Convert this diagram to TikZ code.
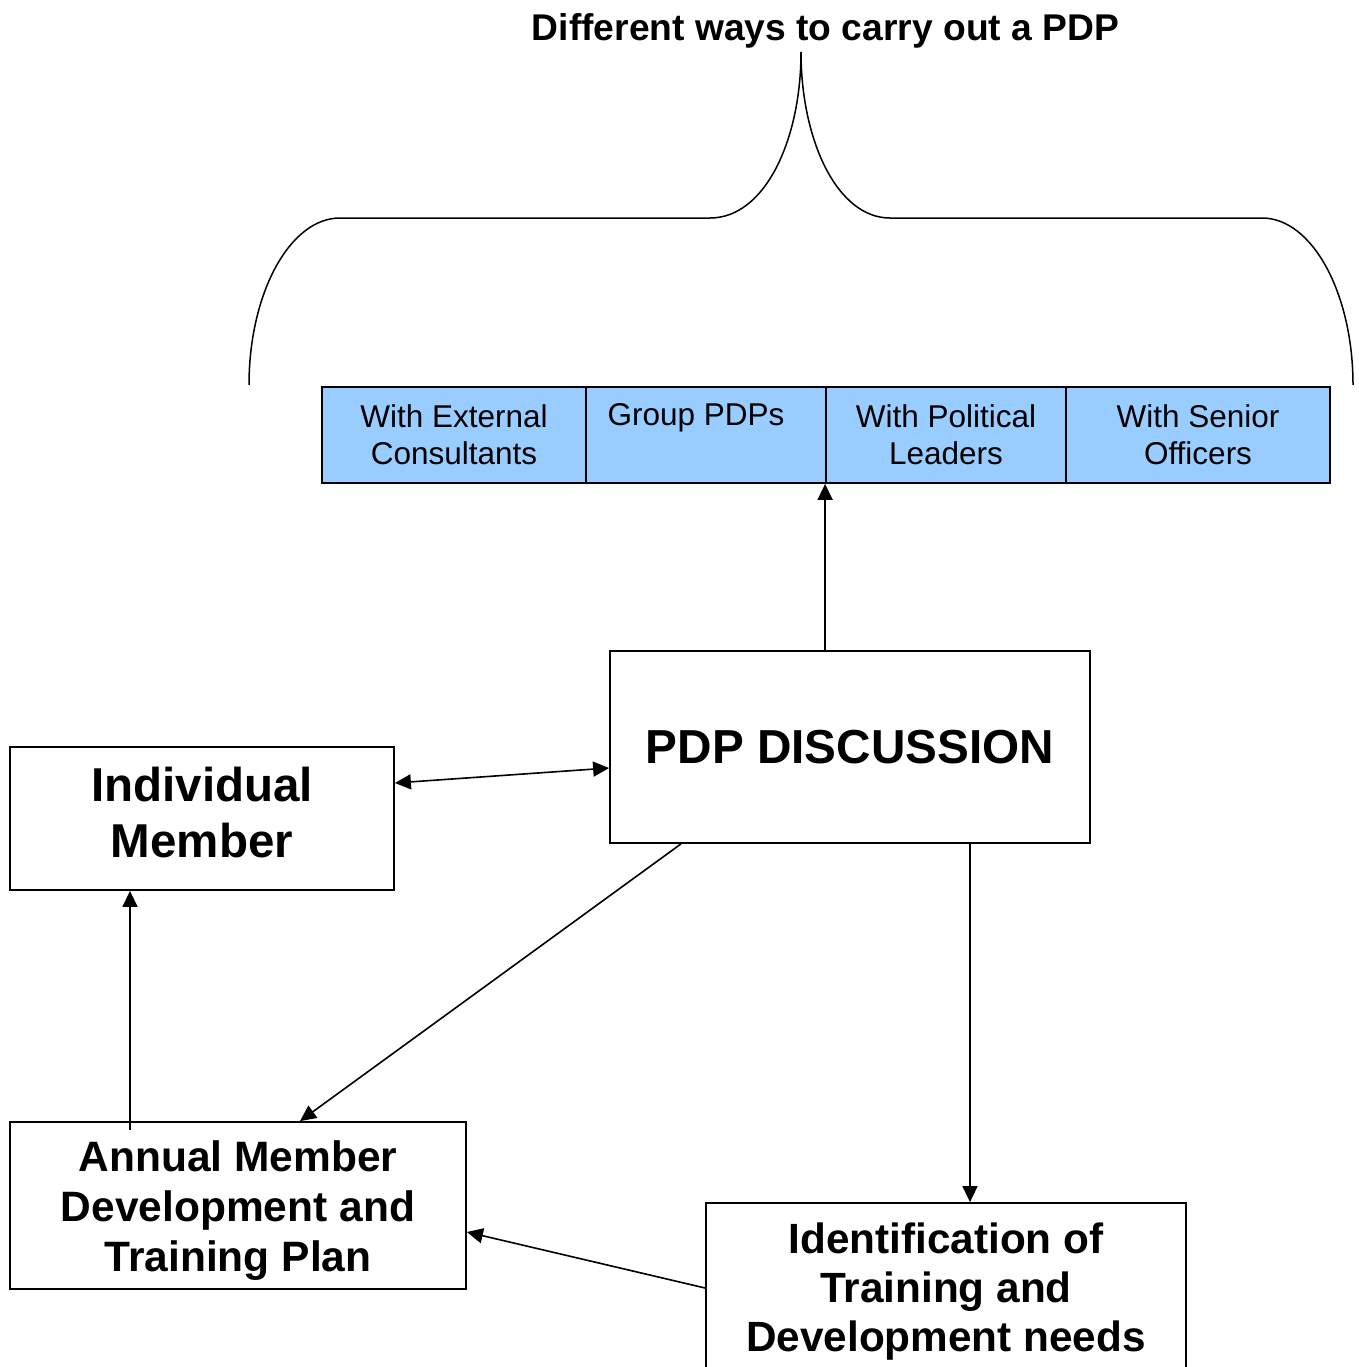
\documentclass[tikz,border=0pt]{standalone}
\usepackage{fontspec}
\setmainfont{Liberation Sans}
\usetikzlibrary{arrows.meta}
\definecolor{cellblue}{HTML}{99CCFF}
\newcommand{\shiftlines}[2]{\raisebox{#1}[\height][\depth]{\begin{tabular}{@{}c@{}}#2\end{tabular}}}
\begin{document}
\begin{tikzpicture}[x=1pt,y=-1pt,
  box/.style={draw=black,line width=1.8pt,fill=white,inner sep=0pt,align=center,font=\bfseries},
  cell/.style={draw=black,line width=1.8pt,fill=cellblue,inner sep=0pt,align=center,minimum height=96pt,
    font=\fontsize{31.5}{37}\selectfont},
  arr/.style={line width=1.6pt,-{Triangle[length=16pt,width=15pt]}},
  darr/.style={line width=1.6pt,{Triangle[length=16pt,width=15pt]}-{Triangle[length=16pt,width=15pt]}},
  bracepath/.style={line width=1.5pt}]
\useasboundingbox (0,0) rectangle (1358,1367);
\clip (0,0) rectangle (1358,1367);
\fill[white] (0,0) rectangle (1358,1367);

% title
\node[font=\fontsize{37.2}{42}\selectfont\bfseries] (title) at (825.5,31) {Different ways to carry out a PDP};

% brace
\draw[bracepath] (249,385) .. controls (249,293) and (290,218) .. (340,218)
  -- (710,218) .. controls (765,218) and (801,140) .. (801,52);
\draw[bracepath] (801,52) .. controls (801,140) and (837,218) .. (890,218)
  -- (1262,218) .. controls (1312,218) and (1353,293) .. (1353,385);

% cells
\node[cell,minimum width=264pt] (c1) at (454,435) {With External\\Consultants};
\node[cell,minimum width=240pt] (c2) at (706,435) {\raisebox{-3pt}{\hspace*{-20pt}Group PDPs}\\\phantom{Xy}};
\node[cell,minimum width=240pt] (c3) at (946,435) {With Political\\Leaders};
\node[cell,minimum width=264pt] (c4) at (1198,435) {With Senior\\Officers};

% boxes
\node[box,minimum width=480pt,minimum height=192pt,font=\fontsize{47.7}{56}\selectfont\bfseries] (pdp) at (850,747) {PDP DISCUSSION};
\node[box,minimum width=384pt,minimum height=143pt,font=\fontsize{47.5}{56}\selectfont\bfseries] (ind) at (202,818.5) {\shiftlines{0pt}{Individual\\Member}};
\node[box,minimum width=456pt,minimum height=167pt,font=\fontsize{42.5}{50}\selectfont\bfseries] (annual) at (238,1205.5) {\shiftlines{-6pt}{Annual Member\\Development and\\Training Plan}};
\node[box,minimum width=480pt,minimum height=170pt,font=\fontsize{42.3}{49}\selectfont\bfseries] (ident) at (946,1288) {\shiftlines{-5pt}{Identification of\\Training and\\Development needs}};

% connectors
\draw[arr] (pdp.north -| c3.south west) -- (c3.south west);
\draw[darr] ([yshift=35.5pt]ind.east) -- ([yshift=-21pt]pdp.west);
\draw[arr] ([xshift=-169pt]pdp.south) -- ([xshift=62pt]annual.north);
\draw[arr] ([xshift=120pt]pdp.south) -- ([xshift=120pt]pdp.south |- ident.north);
\draw[arr] (ident.west) -- ([yshift=-26.5pt]annual.east);
\draw[arr] ([xshift=-108pt,yshift=-9pt]annual.north) -- ([xshift=-108pt]annual.north |- ind.south);
\end{tikzpicture}
\end{document}
